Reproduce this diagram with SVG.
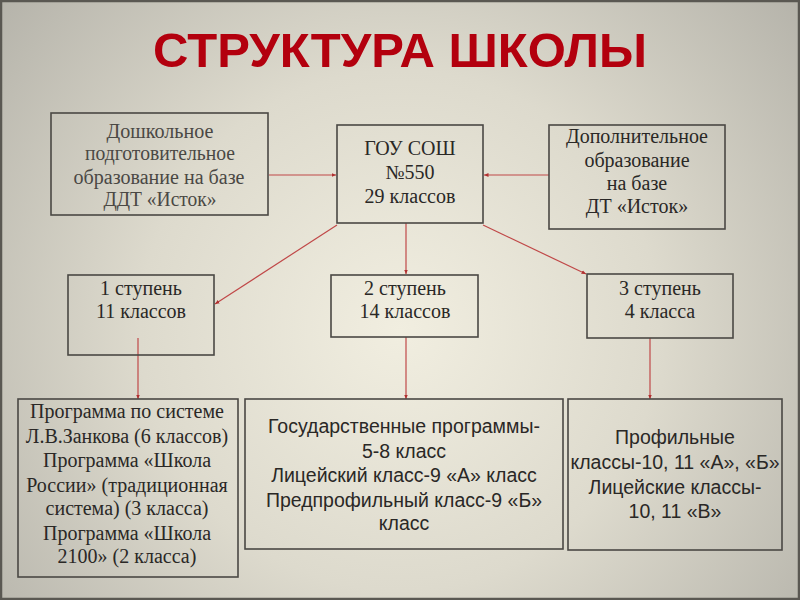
<svg xmlns="http://www.w3.org/2000/svg" width="800" height="600" viewBox="0 0 800 600">
<defs>
<radialGradient id="bg" cx="400" cy="330" r="520" gradientUnits="userSpaceOnUse">
<stop offset="0" stop-color="#f1eee0"/>
<stop offset="0.5" stop-color="#dddacd"/>
<stop offset="1" stop-color="#b5b3aa"/>
</radialGradient>
<marker id="arr" markerWidth="6" markerHeight="6" refX="4.5" refY="3" orient="auto" markerUnits="userSpaceOnUse">
<path d="M0,1 L4.5,3 L0,5 Z" fill="#b03030"/>
</marker>
<style>
.box{fill:none;stroke:#4a4844;stroke-width:1.6}
.serif{font-family:"Liberation Serif","Times New Roman",serif;font-size:20px;fill:#2a2826;text-anchor:middle}
.sans{font-family:"Liberation Sans",Arial,sans-serif;font-size:19.5px;fill:#2a2826;text-anchor:middle}
.faded{fill:#4a4844;font-size:20.5px}
.conn{stroke:#c04848;stroke-width:1.2;fill:none;marker-end:url(#arr)}
.title{font-family:"Liberation Sans",Arial,sans-serif;font-weight:bold;font-size:49px;fill:#b3000e;text-anchor:middle}
</style>
</defs>
<rect x="0" y="0" width="800" height="600" fill="url(#bg)"/>
<rect x="1" y="1" width="798" height="598" fill="none" stroke="#5a5852" stroke-width="2.5"/>
<text class="title" x="400" y="67">СТРУКТУРА ШКОЛЫ</text>

<g id="connectors">
<line class="conn" x1="269" y1="175" x2="336" y2="175"/>
<line class="conn" x1="549" y1="175" x2="484" y2="175"/>
<line class="conn" x1="337" y1="225" x2="215" y2="304"/>
<line class="conn" x1="406" y1="223" x2="406" y2="274"/>
<line class="conn" x1="483" y1="225" x2="586" y2="274"/>
<line class="conn" x1="138" y1="338" x2="138" y2="399"/>
<line class="conn" x1="406" y1="337" x2="406" y2="399"/>
<line class="conn" x1="650" y1="338" x2="650" y2="399"/>
</g>

<g id="preschool">
<rect class="box" x="51" y="113" width="217" height="102"/>
<text class="serif faded" x="160" y="138" textLength="107" lengthAdjust="spacingAndGlyphs">Дошкольное</text>
<text class="serif faded" x="160" y="160" textLength="150" lengthAdjust="spacingAndGlyphs">подготовительное</text>
<text class="serif faded" x="159" y="184" textLength="171" lengthAdjust="spacingAndGlyphs">образование на базе</text>
<text class="serif faded" x="160" y="206" textLength="113" lengthAdjust="spacingAndGlyphs">ДДТ «Исток»</text>
</g>

<g id="school">
<rect class="box" x="337" y="125" width="146" height="98"/>
<text class="serif" x="410" y="155">ГОУ СОШ</text>
<text class="serif" x="410" y="179">№550</text>
<text class="serif" x="410" y="203">29 классов</text>
</g>

<g id="additional">
<rect class="box" x="549" y="125" width="176" height="104"/>
<text class="serif" x="637" y="143">Дополнительное</text>
<text class="serif" x="637" y="167">образование</text>
<text class="serif" x="637" y="190">на базе</text>
<text class="serif" x="637" y="213">ДТ «Исток»</text>
</g>

<g id="stage1">
<rect class="box" x="68" y="275" width="146" height="80"/>
<text class="serif" x="141" y="295">1 ступень</text>
<text class="serif" x="141" y="318">11 классов</text>
</g>

<g id="stage2">
<rect class="box" x="331" y="275" width="147" height="62"/>
<text class="serif" x="405" y="295">2 ступень</text>
<text class="serif" x="405" y="318">14 классов</text>
</g>

<g id="stage3">
<rect class="box" x="587" y="274" width="146" height="64"/>
<text class="serif" x="660" y="295">3 ступень</text>
<text class="serif" x="660" y="318">4 класса</text>
</g>

<g id="programs1">
<rect class="box" x="18" y="399" width="220" height="178"/>
<text class="serif" x="127" y="418">Программа по системе</text>
<text class="serif" x="127" y="443">Л.В.Занкова (6 классов)</text>
<text class="serif" x="127" y="467">Программа «Школа</text>
<text class="serif" x="127" y="492">России» (традиционная</text>
<text class="serif" x="127" y="515">система) (3 класса)</text>
<text class="serif" x="127" y="540">Программа «Школа</text>
<text class="serif" x="127" y="563">2100» (2 класса)</text>
</g>

<g id="programs2">
<rect class="box" x="245" y="399" width="318" height="150"/>
<text class="sans" x="404" y="433">Государственные программы-</text>
<text class="sans" x="404" y="458">5-8 класс</text>
<text class="sans" x="404" y="482">Лицейский класс-9 «А» класс</text>
<text class="sans" x="404" y="507">Предпрофильный класс-9 «Б»</text>
<text class="sans" x="404" y="530">класс</text>
</g>

<g id="programs3">
<rect class="box" x="568" y="399" width="214" height="151"/>
<text class="sans" x="675" y="444">Профильные</text>
<text class="sans" x="675" y="469">классы-10, 11 «А», «Б»</text>
<text class="sans" x="675" y="494">Лицейские классы-</text>
<text class="sans" x="675" y="518">10, 11 «В»</text>
</g>
</svg>
